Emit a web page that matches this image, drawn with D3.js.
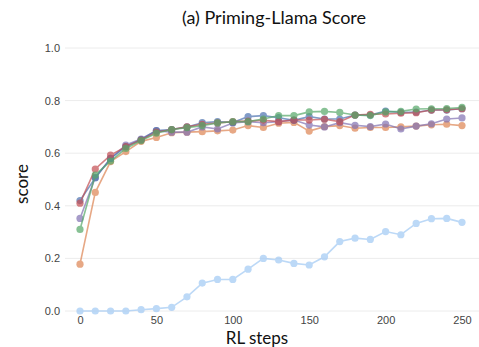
<!DOCTYPE html>
<html>
<head>
<meta charset="utf-8">
<script src="https://cdn.jsdelivr.net/npm/d3@7"></script>
<style>
  html, body { margin: 0; padding: 0; background: #fff; }
  svg { display: block; }
</style>
</head>
<body>
<svg id="chart" width="479" height="347"></svg>
<script>
// RL training steps (x) and score per run (y)
const steps = d3.range(0, 251, 10);
const yTicks = [0.0, 0.2, 0.4, 0.6, 0.8, 1.0];
const xTicks = [0, 50, 100, 150, 200, 250];

const baseline = [0.0, 0.0, 0.0, 0.0, 0.005, 0.009, 0.014, 0.054, 0.106, 0.12, 0.12, 0.159, 0.20,
  0.194, 0.181, 0.175, 0.206, 0.264, 0.277, 0.272, 0.302, 0.29, 0.333, 0.351, 0.352, 0.337];
const runOrange = [0.178, 0.451, 0.568, 0.606, 0.645, 0.66, 0.678, 0.68, 0.682, 0.685, 0.688, 0.705, 0.698,
  0.714, 0.717, 0.684, 0.701, 0.705, 0.695, 0.698, 0.698, 0.70, 0.703, 0.708, 0.71, 0.705];
const runPurple = [0.352, 0.508, 0.58, 0.631, 0.654, 0.686, 0.68, 0.68, 0.70, 0.692, 0.715, 0.72, 0.716,
  0.72, 0.726, 0.707, 0.70, 0.716, 0.706, 0.701, 0.711, 0.692, 0.703, 0.712, 0.73, 0.734];
const runBlue = [0.42, 0.506, 0.58, 0.625, 0.652, 0.686, 0.69, 0.70, 0.716, 0.72, 0.717, 0.739, 0.743,
  0.735, 0.725, 0.739, 0.73, 0.73, 0.745, 0.745, 0.76, 0.755, 0.756, 0.764, 0.764, 0.769];
const runRed = [0.41, 0.54, 0.593, 0.625, 0.65, 0.68, 0.69, 0.70, 0.71, 0.715, 0.72, 0.722, 0.725,
  0.72, 0.726, 0.726, 0.729, 0.72, 0.745, 0.748, 0.749, 0.752, 0.754, 0.764, 0.765, 0.769];
const runGreen = [0.31, 0.517, 0.57, 0.618, 0.648, 0.676, 0.69, 0.697, 0.705, 0.715, 0.72, 0.72, 0.73,
  0.743, 0.743, 0.757, 0.759, 0.755, 0.745, 0.743, 0.757, 0.759, 0.768, 0.769, 0.77, 0.774];

const series = [
  { values: baseline, color: "#a1c9f4" },
  { values: runOrange, color: "#dd8452" },
  { values: runPurple, color: "#8172b3" },
  { values: runBlue, color: "#4c72b0" },
  { values: runRed, color: "#c44e52" },
  { values: runGreen, color: "#55a868" }
];

const svg = d3.select("#chart");
const x = d3.scaleLinear().domain([0, 250]).range([80, 462]);
const y = d3.scaleLinear().domain([0, 1]).range([311, 48]);

// horizontal grid
svg.append("g")
  .selectAll("line")
  .data(yTicks)
  .join("line")
  .attr("x1", 65).attr("x2", 479)
  .attr("y1", d => y(d)).attr("y2", d => y(d))
  .attr("stroke", "#ececec").attr("stroke-width", 1);

// y axis labels
const yAxis = svg.append("g")
  .attr("transform", "translate(65,0)")
  .call(d3.axisLeft(y).tickValues(yTicks).tickFormat(d3.format(".1f")).tickSize(0).tickPadding(5));
yAxis.select(".domain").remove();
yAxis.selectAll("text")
  .attr("font-family", "Liberation Sans, Arial, sans-serif")
  .attr("font-size", 11).attr("fill", "#444");

// x axis labels
const xAxis = svg.append("g")
  .attr("transform", "translate(0,314)")
  .call(d3.axisBottom(x).tickValues(xTicks).tickSize(0).tickPadding(2));
xAxis.select(".domain").remove();
xAxis.selectAll("text")
  .attr("font-family", "Liberation Sans, Arial, sans-serif")
  .attr("font-size", 11).attr("fill", "#444");

// series lines and markers
const line = d3.line().x((d, i) => x(steps[i])).y(d => y(d));
series.forEach(s => {
  const g = svg.append("g").attr("opacity", 0.7);
  g.append("path")
    .attr("d", line(s.values))
    .attr("fill", "none")
    .attr("stroke", s.color)
    .attr("stroke-width", 1.6);
  g.selectAll("circle")
    .data(s.values)
    .join("circle")
    .attr("cx", (d, i) => x(steps[i]))
    .attr("cy", d => y(d))
    .attr("r", 3.6)
    .attr("fill", s.color);
});

// titles
svg.append("text")
  .attr("x", 274).attr("y", 24)
  .attr("text-anchor", "middle")
  .attr("font-family", "Lato, sans-serif")
  .attr("font-size", 18).attr("fill", "#111")
  .text("(a) Priming-Llama Score");

svg.append("text")
  .attr("x", 257).attr("y", 344)
  .attr("text-anchor", "middle")
  .attr("font-family", "Lato, sans-serif")
  .attr("font-size", 17).attr("fill", "#111")
  .text("RL steps");

svg.append("text")
  .attr("transform", "translate(28,184) rotate(-90)")
  .attr("text-anchor", "middle")
  .attr("font-family", "Lato, sans-serif")
  .attr("font-size", 17).attr("fill", "#111")
  .text("score");
</script>
</body>
</html>
